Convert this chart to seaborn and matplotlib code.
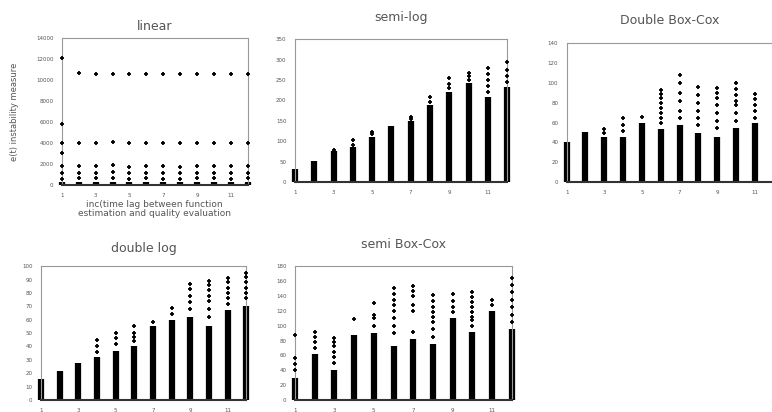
import numpy as np
import pandas as pd
import matplotlib
matplotlib.use('Agg')
from matplotlib import pyplot as plt
import seaborn as sns


COLUMNS = list(range(1, 13))
X_TICKS = [1, 3, 5, 7, 9, 11]

# linear
LINEAR_DENSE = [300] * 12
LINEAR_SPARSE = [
    [12100, 5800, 4000, 3000, 1800, 1100, 600],
    [10650, 4000, 1800, 1150, 650],
    [10550, 3950, 1800, 1150, 650],
    [10550, 4050, 1950, 1200, 650],
    [10550, 3950, 1700, 1100, 600],
    [10600, 3950, 1800, 1150, 650],
    [10600, 3950, 1800, 1100, 600],
    [10600, 3950, 1750, 1100, 600],
    [10600, 3950, 1800, 1150, 650],
    [10550, 3950, 1800, 1150, 650],
    [10550, 3950, 1800, 1100, 600],
    [10550, 3950, 1800, 1150, 650],
]

# semi-log
SEMILOG_DENSE = [33, 52, 75, 85, 110, 137, 150, 188, 221, 242, 209, 233]
SEMILOG_SPARSE = [
    [],
    [],
    [78],
    [92, 102],
    [118, 123],
    [],
    [155, 160],
    [195, 209],
    [230, 240, 254],
    [250, 260, 268],
    [220, 235, 250, 265, 279],
    [245, 260, 275, 295],
]

# Double Box-Cox
DBC_DENSE = [40, 51, 45, 45, 60, 54, 58, 50, 45, 55, 60, 65]
DBC_SPARSE = [
    [],
    [],
    [50, 54],
    [52, 58, 65],
    [66],
    [60, 65, 70, 75, 80, 85, 89, 93],
    [65, 72, 82, 90, 100, 108],
    [58, 65, 72, 80, 88, 96],
    [55, 62, 70, 78, 85, 90, 95],
    [62, 70, 78, 82, 88, 94, 100],
    [65, 72, 78, 84, 89],
    [75, 85, 92, 100, 108, 116],
]

# double log
DLOG_DENSE = [15.6, 21.6, 27.3, 32, 37, 40, 55, 60, 62, 55, 67, 70]
DLOG_SPARSE = [
    [],
    [],
    [],
    [36, 40, 44.7],
    [42, 46, 50.4],
    [44, 47, 50, 55],
    [58],
    [64, 69],
    [68, 73, 78, 83, 87],
    [62, 68, 74, 78, 82, 86, 89],
    [72, 76, 80, 84, 88, 91],
    [76, 80, 84, 88, 92, 95],
]

# semi Box-Cox
SBC_DENSE = [30, 62, 40, 88, 90, 72, 82, 75, 110, 92, 120, 95]
SBC_SPARSE = [
    [40, 48, 57, 87],
    [70, 78, 85, 92],
    [50, 58, 65, 72, 78, 83],
    [109],
    [100, 110, 114, 130],
    [90, 100, 110, 120, 128, 135, 143, 151],
    [92, 120, 128, 140, 146, 153],
    [85, 95, 105, 112, 118, 125, 133, 141],
    [118, 125, 133, 142],
    [100, 108, 112, 118, 125, 132, 138, 145],
    [128, 135],
    [105, 115, 125, 135, 145, 155, 164],
]

# title, dense tops, sparse points, y max, y step, axes rect, title pad
PANELS = [
    ('linear', LINEAR_DENSE, LINEAR_SPARSE, 14000, 2000,
     [0.080, 0.551, 0.241, 0.357], 6),
    ('semi-log', SEMILOG_DENSE, SEMILOG_SPARSE, 350, 50,
     [0.382, 0.558, 0.275, 0.347], 13),
    ('Double Box-Cox', DBC_DENSE, DBC_SPARSE, 140, 20,
     [0.734, 0.558, 0.268, 0.337], 14),
    ('double log', DLOG_DENSE, DLOG_SPARSE, 100, 10,
     [0.053, 0.029, 0.266, 0.325], 10),
    ('semi Box-Cox', SBC_DENSE, SBC_SPARSE, 180, 20,
     [0.382, 0.029, 0.281, 0.325], 13),
]

TEXT_COLOR = '#555555'


def sparse_frame(sparse):
    rows = []
    for col, values in zip(COLUMNS, sparse):
        for value in values:
            rows.append({'lag': col, 'measure': value})
    return pd.DataFrame(rows, columns=['lag', 'measure'])


def draw_panel(fig, title, dense, sparse, ymax, ystep, rect, pad):
    ax = fig.add_axes(rect)
    ax.vlines(COLUMNS, 0, dense, colors='black', linewidth=4.5, zorder=2,
              clip_on=False)
    data = sparse_frame(sparse)
    sns.scatterplot(data=data, x='lag', y='measure', marker='+', s=9,
                    color='black', linewidth=1.3, ax=ax, zorder=3,
                    legend=False, clip_on=False)
    ax.set_xlim(1, 12)
    ax.set_ylim(0, ymax)
    ax.set_xticks(X_TICKS)
    ax.set_yticks(np.arange(0, ymax + ystep, ystep))
    ax.tick_params(labelsize=4, colors=TEXT_COLOR, length=2, width=0.5,
                   pad=4)
    for spine in ax.spines.values():
        spine.set_color('#999999')
        spine.set_linewidth(0.8)
    ax.spines['bottom'].set_color('#333333')
    ax.spines['bottom'].set_linewidth(1.5)
    ax.set_xlabel('')
    ax.set_ylabel('')
    ax.set_title(title, fontsize=9, color=TEXT_COLOR, pad=pad)
    return ax


def main():
    sns.set_style('white')
    plt.rcParams['font.family'] = ['DejaVu Sans']
    fig = plt.figure(figsize=(7.72, 4.12), dpi=100)
    axes = [draw_panel(fig, *panel) for panel in PANELS]

    linear = axes[0]
    linear.set_ylabel('e(t) instability measure', fontsize=6,
                      color=TEXT_COLOR, labelpad=12)
    linear.set_xlabel('inc(time lag between function\n'
                      'estimation and quality evaluation',
                      fontsize=6.5, color=TEXT_COLOR, labelpad=1,
                      linespacing=1.1)

    fig.savefig('out.png', dpi=100)


if __name__ == '__main__':
    main()
